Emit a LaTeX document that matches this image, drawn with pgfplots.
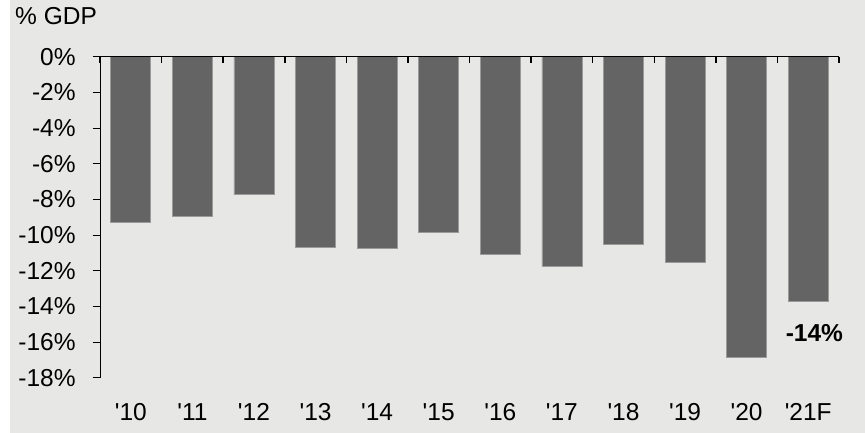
\documentclass[border=0pt]{standalone}
\usepackage{pgfplots}
\pgfplotsset{compat=1.18}
\usepackage{fontspec}
\setmainfont{Liberation Sans}
\definecolor{bg}{HTML}{E7E7E5}
\definecolor{barc}{HTML}{646464}
\definecolor{baredge}{HTML}{9A9A9A}
\begin{document}
\fontsize{24.5bp}{29bp}\selectfont
\begin{tikzpicture}[font=\fontsize{24.5bp}{29bp}\selectfont]
\useasboundingbox (0,0) rectangle (865bp,-433bp);
\fill[white] (0,0) rectangle (865bp,-433bp);
\fill[bg] (10bp,0) rectangle (865bp,-433bp);
\node[anchor=base west, inner sep=0pt] at (15bp,-24bp) {\% GDP};
\begin{axis}[
  scale only axis, width=739bp, height=321bp,
  at={(100bp,-377.7bp)}, anchor=south west,
  xmin=-0.5, xmax=11.5, ymin=-18, ymax=0,
  clip=false,
  ybar, bar width=40bp,
  axis line style={draw=none},
  tick align=outside,
  xtick={0,1,2,3,4,5,6,7,8,9,10,11},
  xticklabels={\textquotesingle10,\textquotesingle11,\textquotesingle12,\textquotesingle13,\textquotesingle14,\textquotesingle15,\textquotesingle16,\textquotesingle17,\textquotesingle18,\textquotesingle19,\textquotesingle20,\textquotesingle21F},
  minor xtick={-0.5,0.5,1.5,2.5,3.5,4.5,5.5,6.5,7.5,8.5,9.5,10.5,11.5},
  xtick pos=right, xticklabel pos=left,
  ytick pos=left,
  major x tick style={draw=none},
  minor x tick style={line width=1.5bp, black, yshift=-6bp},
  minor tick length=6bp,
  major tick length=7.5bp,
  major y tick style={line width=1bp, black},
  ytick={-18,-16,-14,-12,-10,-8,-6,-4,-2,0},
  yticklabels={-18\%,-16\%,-14\%,-12\%,-10\%,-8\%,-6\%,-4\%,-2\%,0\%},
  tick label style={font=\fontsize{24.5bp}{29bp}\selectfont},
  xticklabel style={anchor=base, yshift=-35bp},
  yticklabel style={anchor=east, xshift=-8.5bp},
]
\addplot[fill=barc, draw=baredge, line width=0.6bp] coordinates {
  (0,-9.29) (1,-8.95) (2,-7.74) (3,-10.66) (4,-10.75) (5,-9.85)
  (6,-11.08) (7,-11.76) (8,-10.50) (9,-11.51) (10,-16.84) (11,-13.74)
};
\draw[line width=1bp, black] (rel axis cs:0,0) -- (rel axis cs:0,1) -- (rel axis cs:1,1);
\node[font=\fontsize{24.5bp}{29bp}\selectfont\bfseries] at (axis cs:11.1,-15.5) {-14\%};
\end{axis}
\end{tikzpicture}
\end{document}
